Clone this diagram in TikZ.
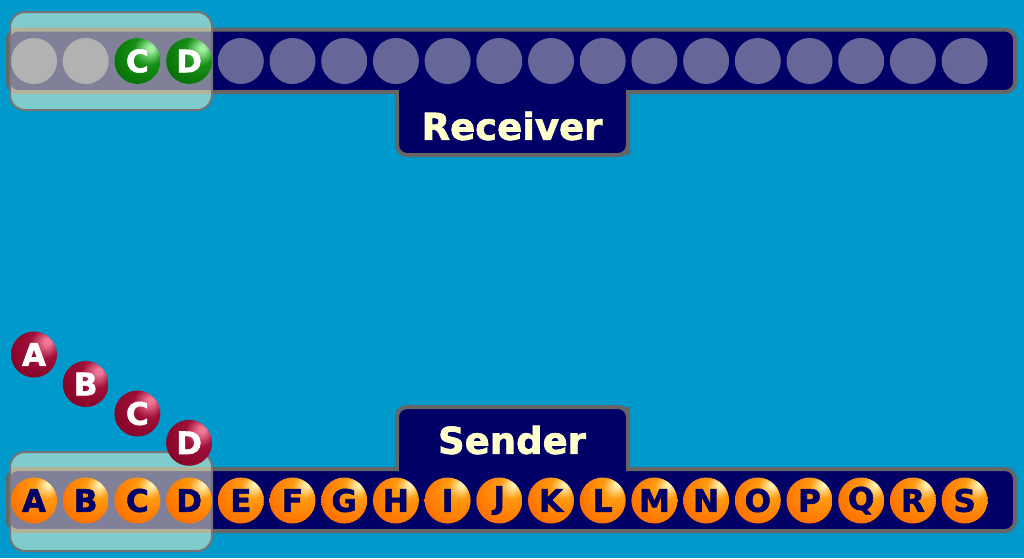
\documentclass[tikz,border=0pt]{standalone}
\usepackage{fontspec}
\newfontfamily\heavyfont{DejaVu Sans Bold}[FakeBold=1.8]
\definecolor{bg}{HTML}{0099CC}
\definecolor{navy}{HTML}{000066}
\definecolor{rim}{HTML}{666666}
\definecolor{slot}{HTML}{666699}
\definecolor{cream}{HTML}{FFFFCC}
\definecolor{ohi}{HTML}{FFF0B0}
\definecolor{omid}{HTML}{FF9A10}
\definecolor{olo}{HTML}{FF7400}
\definecolor{oedge}{HTML}{E05000}
\definecolor{rhi}{HTML}{F07898}
\definecolor{rmid}{HTML}{A01038}
\definecolor{rlo}{HTML}{7A0020}
\definecolor{redge}{HTML}{480010}
\definecolor{ghi}{HTML}{A0F0A0}
\definecolor{gmid}{HTML}{189018}
\definecolor{glo}{HTML}{006600}
\definecolor{gedge}{HTML}{003A00}
\pgfdeclareradialshading{oball}{\pgfpoint{16bp}{18bp}}{color(0bp)=(ohi); color(2bp)=(ohi); color(13bp)=(omid); color(34bp)=(olo); color(68bp)=(oedge)}
\pgfdeclareradialshading{rball}{\pgfpoint{15bp}{15bp}}{color(0bp)=(rhi); color(3bp)=(rhi); color(16bp)=(rmid); color(42bp)=(rlo); color(68bp)=(redge)}
\pgfdeclareradialshading{gball}{\pgfpoint{15bp}{15bp}}{color(0bp)=(ghi); color(3bp)=(ghi); color(16bp)=(gmid); color(42bp)=(glo); color(68bp)=(gedge)}
\tikzset{
  barbox/.style={draw=rim, line width=4pt, fill=navy, rounded corners=10pt},
  tabbox/.style={draw=rim, line width=4pt, fill=navy, rounded corners=10pt},
  slotdisc/.style={circle, fill=slot, minimum size=46pt, inner sep=0pt},
  windowbox/.style={draw=rim!90!white, line width=2pt, fill=cream, fill opacity=0.5, rounded corners=15pt},
  ballbase/.style={circle, minimum size=46pt, inner sep=0pt, font=\heavyfont\fontsize{31}{31}\selectfont},
  orangeball/.style={ballbase, shading=oball, text=navy},
  redball/.style={ballbase, shading=rball, text=white},
  greenball/.style={ballbase, shading=gball, text=white},
  tablabel/.style={text=cream, font=\heavyfont\fontsize{37}{37}\selectfont}
}
\begin{document}
\begin{tikzpicture}[x=1pt,y=-1pt]
\path[use as bounding box, fill=bg] (0,0) rectangle (1024,558);
% top bar and receiver tab
\draw[barbox] (8,29.5) rectangle (1015,92);
\draw[tabbox, sharp corners] (397,90) -- (397,145) [rounded corners=10pt] -- (397,155) -- (628,155) -- (628,145) [sharp corners] -- (628,90);
\fill[navy] (399,84) rectangle (626,100);
\node[tablabel] (recv) at (512,126) {Receiver};
% bottom bar and sender tab
\draw[barbox] (8,469) rectangle (1015,531);
\draw[tabbox, sharp corners] (397,471) -- (397,417) [rounded corners=10pt] -- (397,407) -- (628,407) -- (628,417) [sharp corners] -- (628,471);
\fill[navy] (399,460) rectangle (626,476);
\node[tablabel] (send) at (512,440) {Sender};
% receiver slots
\foreach \i in {0,...,18} {
  \node[slotdisc] (slot\i) at ({34+51.7*\i},61) {};
}
% sliding windows
\draw[windowbox] (10,12) rectangle (212,110);
\draw[windowbox] (10,452) rectangle (212,551);
% received packets
\node[greenball] (rC) at (137.4,61) {C};
\node[greenball] (rD) at (189.1,61) {D};
% sender packets
\foreach \l [count=\i from 0] in {A,B,C,D,E,F,G,H,I,J,K,L,M,N,O,P,Q,R,S} {
  \node[orangeball] (s\l) at ({34+51.7*\i},500.5) {\l};
}
% packets in flight
\node[redball] (fA) at (34,354.5) {A};
\node[redball] (fB) at (85.7,384) {B};
\node[redball] (fC) at (137.4,413.5) {C};
\node[redball] (fD) at (189.1,442.8) {D};
\end{tikzpicture}
\end{document}
